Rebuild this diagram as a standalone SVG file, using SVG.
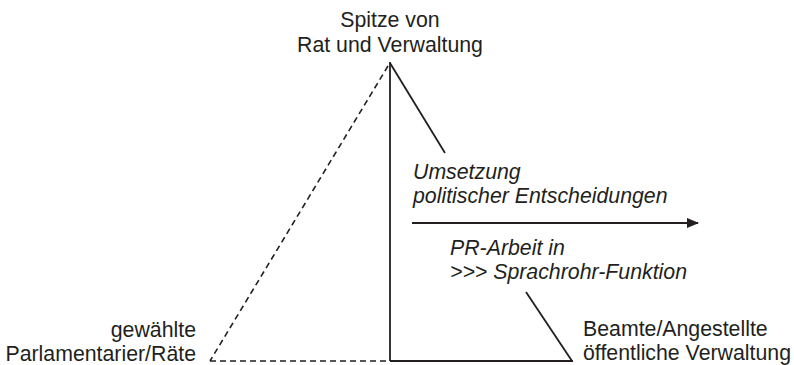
<svg xmlns="http://www.w3.org/2000/svg" width="794" height="365" viewBox="0 0 794 365">
<defs>
<style>
.t{font-family:"Liberation Sans",Arial,sans-serif;font-size:21.3px;fill:#231f20}
.i{font-style:italic}
.s{stroke:#231f20;stroke-width:1.8;fill:none}
.d{stroke:#231f20;stroke-width:1.6;fill:none;stroke-dasharray:6,4}
</style>
<marker id="ah" markerWidth="12" markerHeight="10" refX="11" refY="5" orient="auto" markerUnits="userSpaceOnUse">
<path d="M0,0 L12,5 L0,10 Z" fill="#231f20"/>
</marker>
</defs>
<rect width="794" height="365" fill="#fff"/>
<g id="connectors">
<line class="d" x1="388" y1="66" x2="210" y2="361"/>
<line class="d" x1="210" y1="361" x2="390" y2="361"/>
<line class="s" x1="390" y1="62" x2="390" y2="361"/>
<line class="s" x1="390" y1="361" x2="573" y2="361"/>
<line class="s" x1="390" y1="63" x2="445" y2="153"/>
<line class="s" x1="526" y1="292" x2="572" y2="361"/>
<line x1="412" y1="223" x2="698" y2="223" stroke="#231f20" stroke-width="2.2" marker-end="url(#ah)"/>
</g>
<g id="top">
<text class="t" x="390" y="27" text-anchor="middle">Spitze von</text>
<text class="t" x="390" y="52" text-anchor="middle">Rat und Verwaltung</text>
</g>
<g id="umsetzung">
<text class="t i" x="413" y="179">Umsetzung</text>
<text class="t i" x="413" y="203">politischer Entscheidungen</text>
</g>
<g id="pr">
<text class="t i" x="450" y="255">PR-Arbeit in</text>
<text class="t i" x="450" y="279">&gt;&gt;&gt; Sprachrohr-Funktion</text>
</g>
<g id="left">
<text class="t" x="196" y="337" text-anchor="end">gewählte</text>
<text class="t" x="196" y="361" text-anchor="end">Parlamentarier/Räte</text>
</g>
<g id="right">
<text class="t" x="583" y="336">Beamte/Angestellte</text>
<text class="t" x="583" y="360">öffentliche Verwaltung</text>
</g>
</svg>
